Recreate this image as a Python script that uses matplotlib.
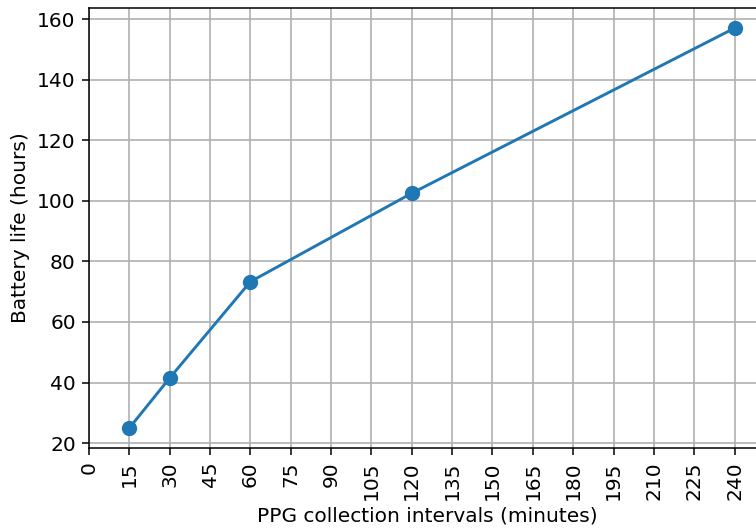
import matplotlib
matplotlib.use("Agg")
import matplotlib.pyplot as plt

# PPG sampling interval vs. resulting battery life
intervals_min = [15, 30, 60, 120, 240]
battery_hours = [25, 41.5, 73.3, 102.5, 157]
x_ticks = list(range(0, 241, 15))

fig = plt.figure(figsize=(7.56, 5.30), dpi=100)
ax = fig.add_axes([0.1177, 0.1547, 0.894, 0.830])

ax.plot(intervals_min, battery_hours, color="#1f77b4", linewidth=2.1,
        marker="o", markersize=10)

ax.set_xlim(0, 251.25)
ax.set_ylim(18.4, 163.6)
ax.set_xticks(x_ticks)
ax.set_xticklabels([str(t) for t in x_ticks], rotation=90)
ax.set_yticks(range(20, 161, 20))
ax.tick_params(labelsize=14.5, length=5, width=1.1, pad=4.5)
ax.grid(True, color="#b0b0b0", linewidth=1.2)
ax.set_axisbelow(True)
for s in ax.spines.values():
    s.set_linewidth(1.1)

ax.set_xlabel("PPG collection intervals (minutes)", fontsize=14.5, labelpad=5)
ax.set_ylabel("Battery life (hours)", fontsize=14.5, labelpad=5)

fig.savefig("out.png", dpi=100)
